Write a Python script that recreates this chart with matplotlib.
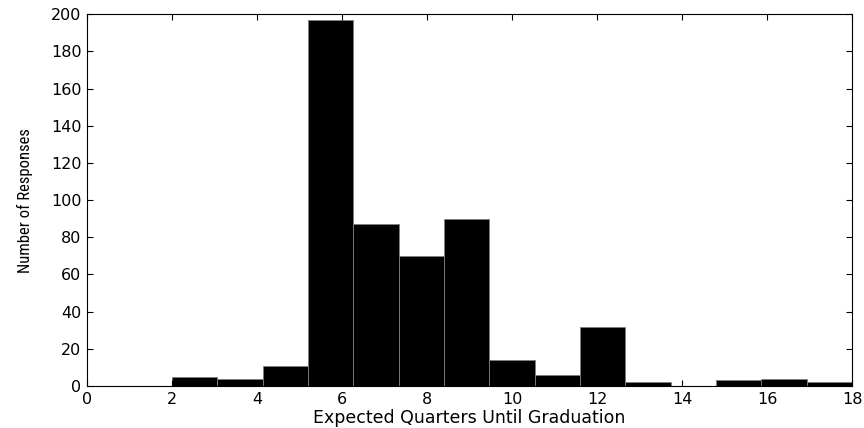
import numpy as np
import matplotlib
matplotlib.use("Agg")
import matplotlib.pyplot as plt
from matplotlib import font_manager

# bin edges of the histogram (15 bins from 2 to 18) and counts per bin
bin_start = 2
bin_end = 18
n_bins = 15
counts = [5, 4, 11, 197, 87, 70, 90, 14, 6, 32, 2, 0, 3, 4, 2]

x_ticks = [0, 2, 4, 6, 8, 10, 12, 14, 16, 18]
y_ticks = [0, 20, 40, 60, 80, 100, 120, 140, 160, 180, 200]

# a narrow face for the y label, if one is installed
fonts = font_manager.fontManager.ttflist
names = {f.name for f in fonts}
narrow = dict(family='Liberation Sans', stretch='normal', size=10.5)
for cand in ["Liberation Sans Narrow", "Roboto Condensed", "Open Sans Condensed"]:
    if cand in names:
        narrow = dict(family=cand, stretch='normal', size=12)
        break
else:
    if any(f.name == 'DejaVu Sans' and f.stretch == 'condensed' for f in fonts):
        narrow = dict(family='DejaVu Sans', stretch='condensed', size=11)

plt.rcParams['font.family'] = ['DejaVu Sans']

edges = np.linspace(bin_start, bin_end, n_bins + 1)

fig = plt.figure(figsize=(8.64, 4.28), dpi=100)
ax = fig.add_axes([0.1007, 0.098, 0.8855, 0.869])

ax.bar(edges[:-1], counts, width=np.diff(edges), align='edge',
       color='black', edgecolor='#808080', linewidth=0.6)

ax.set_xlim(0, 18)
ax.set_ylim(0, 200)
ax.set_xticks(x_ticks)
ax.set_yticks(y_ticks)
ax.tick_params(direction='in', length=4, width=0.8, top=True, right=True,
               labelsize=11.5, colors='black', pad=4)
for s in ax.spines.values():
    s.set_linewidth(0.8)

ax.set_xlabel("Expected Quarters Until Graduation", fontsize=12.5, labelpad=2)
ax.set_ylabel("Number of Responses", fontsize=narrow['size'],
              fontfamily=narrow['family'], fontstretch=narrow['stretch'])
ax.yaxis.set_label_coords(-0.071, 0.5)

fig.savefig("out.png", dpi=100)
